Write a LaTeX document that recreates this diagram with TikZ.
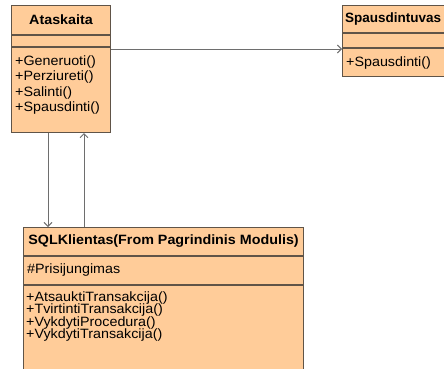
\documentclass[tikz,border=0pt]{standalone}
\usepackage{fontspec}
\setmainfont{Liberation Sans}[FakeStretch=1.06]
\newfontfamily\plainsans{Liberation Sans}
\usetikzlibrary{arrows.meta}
\definecolor{classfill}{RGB}{255,204,153}
\definecolor{classline}{RGB}{96,84,72}
\definecolor{connline}{RGB}{110,110,110}
\tikzset{
  classbox/.style={draw=classline, fill=classfill, line width=1.1pt, inner sep=0pt, anchor=north west},
  divider/.style={draw=classline, line width=1.1pt},
  ctitle/.style={font=\fontsize{13.5}{15}\selectfont\bfseries, inner sep=0pt, text=black},
  mtext/.style={font=\fontsize{13.5}{15}\selectfont, inner sep=0pt, anchor=west, text=black},
  conn/.style={draw=connline, line width=0.9pt, -{Straight Barb[length=4pt,width=8pt]}}
}
\begin{document}
\begin{tikzpicture}[x=1pt,y=-1pt]
\useasboundingbox (0,0) rectangle (444,369);
\clip (0,0) rectangle (444,369);
% Ataskaita
\node[classbox, minimum width=99pt, minimum height=127pt] (atask) at (11,5) {};
\draw[divider] ([yshift=-30pt]atask.north west) -- ([yshift=-30pt]atask.north east);
\draw[divider] ([yshift=-42pt]atask.north west) -- ([yshift=-42pt]atask.north east);
\node[ctitle] (ataskt) at ([yshift=-15pt]atask.north) {Ataskaita};
\node[mtext] (a1) at ([xshift=4pt,yshift=-57pt]atask.north west) {+Generuoti()};
\node[mtext] (a2) at ([xshift=4pt,yshift=-72.5pt]atask.north west) {+Perziureti()};
\node[mtext] (a3) at ([xshift=4pt,yshift=-88pt]atask.north west) {+Salinti()};
\node[mtext] (a4) at ([xshift=4pt,yshift=-103.5pt]atask.north west) {+Spausdinti()};
% Spausdintuvas
\node[classbox, minimum width=106pt, minimum height=71pt] (spaus) at (342,5) {};
\draw[divider] ([yshift=-28pt]spaus.north west) -- ([yshift=-28pt]spaus.north east);
\draw[divider] ([yshift=-43pt]spaus.north west) -- ([yshift=-43pt]spaus.north east);
\node[ctitle, anchor=west, font=\fontsize{13.5}{15}\selectfont\plainsans\bfseries] (spaust) at ([xshift=3pt,yshift=-14pt]spaus.north west) {Spausdintuvas};
\node[mtext] (s1) at ([xshift=4pt,yshift=-58pt]spaus.north west) {+Spausdinti()};
% SQLKlientas
\node[classbox, minimum width=280pt, minimum height=148pt] (sql) at (23,227) {};
\draw[divider] ([yshift=-29pt]sql.north west) -- ([yshift=-29pt]sql.north east);
\draw[divider] ([yshift=-58pt]sql.north west) -- ([yshift=-58pt]sql.north east);
\node[ctitle] (sqlt) at ([yshift=-14.5pt]sql.north) {SQLKlientas(From Pagrindinis Modulis)};
\node[mtext] (q0) at ([xshift=4pt,yshift=-43.5pt]sql.north west) {\#Prisijungimas};
\node[mtext] (q1) at ([xshift=3pt,yshift=-71pt]sql.north west) {+AtsauktiTransakcija()};
\node[mtext] (q2) at ([xshift=3pt,yshift=-83.5pt]sql.north west) {+TvirtintiTransakcija()};
\node[mtext] (q3) at ([xshift=3pt,yshift=-96pt]sql.north west) {+VykdytiProcedura()};
\node[mtext] (q4) at ([xshift=3pt,yshift=-108.5pt]sql.north west) {+VykdytiTransakcija()};
% connectors
\draw[conn] ([yshift=-44pt]atask.north east) -- ([yshift=-44pt]atask.north east -| spaus.west);
\draw[conn] ([xshift=37pt]atask.south west) -- ([xshift=37pt]atask.south west |- sql.north);
\draw[conn] ([xshift=73pt]atask.south west |- sql.north) -- ([xshift=73pt]atask.south west);
\end{tikzpicture}
\end{document}
